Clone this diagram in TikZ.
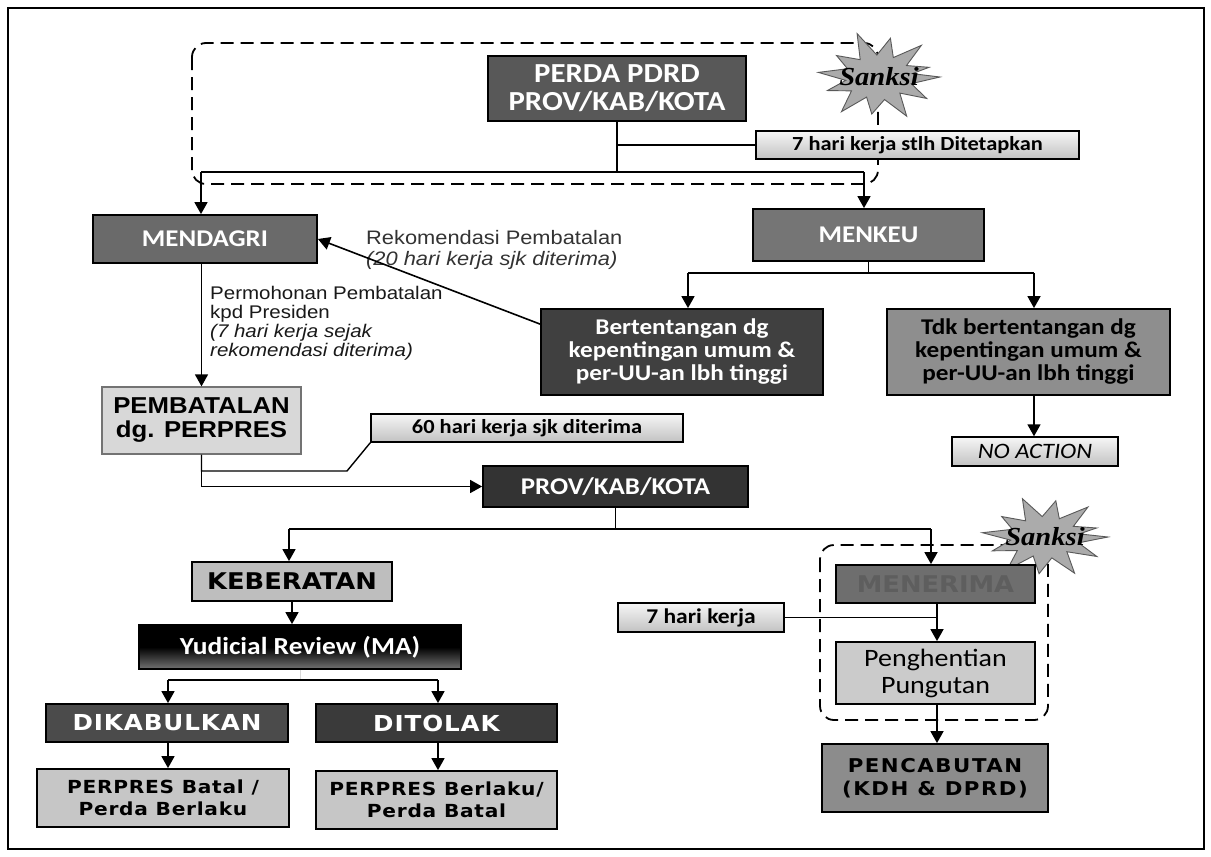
\documentclass[tikz,border=0pt]{standalone}
\usepackage{fontspec}
\usetikzlibrary{arrows.meta,calc}
\newfontfamily\carl{Carlito}[FakeStretch=1.12]
\newfontfamily\lsans{Liberation Sans}[FakeStretch=1.12]
\newfontfamily\heavyA{DejaVu Sans}[FakeStretch=1.12]
\newfontfamily\heavyB{DejaVu Sans}[FakeStretch=1.12,LetterSpace=4]
\newfontfamily\heavyC{DejaVu Sans}[FakeStretch=1.12,LetterSpace=8]
\newfontfamily\sanksifont{Liberation Serif}[FakeStretch=1.1]
\newcommand{\fs}[2]{\fontsize{#1}{#2}\selectfont}
\definecolor{cPerda}{HTML}{585858}
\definecolor{cMendagri}{HTML}{6A6A6A}
\definecolor{cMenkeu}{HTML}{757575}
\definecolor{cBerten}{HTML}{404040}
\definecolor{cTdk}{HTML}{8E8E8E}
\definecolor{cPembat}{HTML}{D8D8D8}
\definecolor{cProv}{HTML}{333333}
\definecolor{cKeber}{HTML}{BEBEBE}
\definecolor{cDikab}{HTML}{4B4B4B}
\definecolor{cDitol}{HTML}{3A3A3A}
\definecolor{cPerpres}{HTML}{C6C6C6}
\definecolor{cMenerima}{HTML}{6E6E6E}
\definecolor{cMenerimaTxt}{HTML}{5E5E5E}
\definecolor{cPengh}{HTML}{CBCBCB}
\definecolor{cPencab}{HTML}{8C8C8C}
\definecolor{cBurst}{HTML}{ABABAB}
\definecolor{cGradTop}{HTML}{F6F6F6}
\definecolor{cGradBot}{HTML}{C2C2C2}
\definecolor{cLabel}{HTML}{333333}
\tikzset{
  bx/.style={draw=black, line width=1.8pt, inner sep=0pt, align=center, anchor=center},
  gbx/.style={bx, line width=1.4pt, top color=cGradTop, bottom color=cGradBot},
  arr/.style={line width=1.6pt, -{Triangle[width=13pt,length=12pt]}},
  ln/.style={line width=1.6pt},
  dsh/.style={line width=1.8pt, dash pattern=on 13pt off 7pt, rounded corners=14pt},
  burstshape/.style={fill=cBurst, draw=black!65, line width=0.9pt, line join=miter},
  bursttext/.style={inner sep=0pt, font=\sanksifont\bfseries\itshape\fs{26}{26}}
}
\begin{document}
\begin{tikzpicture}[x=1pt,y=-1pt]
\fill[white] (0,0) rectangle (1211,857);
\useasboundingbox (0,0) rectangle (1211,857);
\draw[line width=1.5pt] (8,8) rectangle (1204,849);

% dashed groups (drawn first, behind everything)
\draw[dsh] (192,43) rectangle (878,184);
\draw[dsh] (820,545) rectangle (1048,720);

% starburst 1
\coordinate (sk1c) at (879,77);
\filldraw[burstshape] ($(sk1c)+(0:61 and 40)$)
  \foreach \a/\f in {16/0.55, 32/0.92, 47/0.5, 63/1.0, 80/0.52, 98/0.85, 114/0.5, 128/1.0, 145/0.55, 160/0.9, 172/0.55, 186/1.0, 200/0.55, 215/0.85, 232/0.5, 250/1.05, 266/0.5, 282/0.9, 298/0.5, 314/1.0, 330/0.52, 345/0.85, 352/0.55}
  { -- ($(sk1c)+(\a:{61*\f} and {44*\f})$) } -- cycle;
\node[bursttext] (sk1) at (sk1c) {Sanksi};

% starburst 2
\coordinate (sk2c) at (1045,537);
\filldraw[burstshape] ($(sk2c)+(0:63 and 36)$)
  \foreach \a/\f in {15/0.55, 30/0.95, 46/0.5, 62/1.0, 78/0.52, 96/0.9, 112/0.5, 127/1.0, 143/0.55, 158/0.9, 172/0.55, 186/1.0, 200/0.55, 216/0.85, 232/0.5, 249/1.0, 265/0.5, 281/0.9, 297/0.5, 313/1.0, 330/0.52, 345/0.85, 352/0.55}
  { -- ($(sk2c)+(\a:{63*\f} and {41*\f})$) } -- cycle;
\node[bursttext] (sk2) at (sk2c) {Sanksi};

% nodes
\node[bx, fill=cPerda, text=white, minimum width=258pt, minimum height=65pt, font=\carl\bfseries\fs{27.5}{28}] (perda) at (617,88.5) {PERDA PDRD\\PROV/KAB/KOTA};
\node[gbx, minimum width=323pt, minimum height=28pt, font=\carl\bfseries\fs{20}{21}] (t7stlh) at (917.5,145) {7 hari kerja stlh Ditetapkan};

\node[bx, fill=cMendagri, text=white, minimum width=224pt, minimum height=48pt, font=\carl\bfseries\fs{24}{26}] (mendagri) at (205,239) {MENDAGRI};
\node[bx, fill=cMenkeu, text=white, minimum width=231pt, minimum height=52pt, font=\carl\bfseries\fs{24}{26}] (menkeu) at (868.5,235) {MENKEU};
\node[bx, fill=cBerten, text=white, minimum width=282pt, minimum height=86pt, font=\carl\bfseries\fs{22.5}{23}] (berten) at (682,352) {Bertentangan dg\\kepentingan umum \&\\per-UU-an lbh tinggi};
\node[bx, fill=cTdk, text=black, minimum width=283pt, minimum height=86pt, font=\carl\bfseries\fs{22.5}{23}] (tdk) at (1028.5,352) {Tdk bertentangan dg\\kepentingan umum \&\\per-UU-an lbh tinggi};
\node[gbx, minimum width=166pt, minimum height=29pt, font=\carl\itshape\fs{22}{23}] (noaction) at (1035,451.5) {NO ACTION};

\node[anchor=west, align=left, inner sep=0pt, text=cLabel, font=\lsans\fs{19.5}{21}] (rek) at (366,249.5) {Rekomendasi Pembatalan\\{\itshape (20 hari kerja sjk diterima)}};
\node[anchor=west, align=left, inner sep=0pt, text=black!90, font=\lsans\fs{18.3}{19}] (perm) at (210,323) {Permohonan Pembatalan\\kpd Presiden\\{\itshape (7 hari kerja sejak}\\{\itshape rekomendasi diterima)}};

\node[bx, draw=black!55, line width=1.3pt, fill=cPembat, minimum width=199pt, minimum height=67pt, font=\lsans\bfseries\fs{23}{24}] (pembat) at (201.5,420.5) {PEMBATALAN\\dg. PERPRES};
\node[gbx, minimum width=312pt, minimum height=28pt, font=\carl\bfseries\fs{20}{21}] (t60) at (527,428) {60 hari kerja sjk diterima};
\node[bx, fill=cProv, text=white, minimum width=265pt, minimum height=41pt, font=\carl\bfseries\fs{24}{26}] (prov) at (615.5,486.5) {PROV/KAB/KOTA};

\node[bx, fill=cKeber, minimum width=200pt, minimum height=39pt, font=\heavyA\bfseries\fs{23}{24}] (keber) at (292,581.5) {KEBERATAN};
\node[bx, top color=black, bottom color=black!55, middle color=black, minimum width=322pt, minimum height=44pt, text=white, font=\carl\bfseries\fs{24.5}{26}] (yudi) at (300,647) {Yudicial Review (MA)};
\node[bx, fill=cDikab, text=white, minimum width=242pt, minimum height=38pt, font=\heavyB\bfseries\fs{22}{24}] (dikab) at (167,723) {DIKABULKAN};
\node[bx, fill=cDitol, text=white, minimum width=241pt, minimum height=38pt, font=\heavyB\bfseries\fs{22}{24}] (ditol) at (436.5,723) {DITOLAK};
\node[bx, fill=cPerpres, minimum width=252pt, minimum height=58pt, font=\heavyB\bfseries\fs{18}{22}] (pbatal) at (163,798) {PERPRES Batal /\\Perda Berlaku};
\node[bx, fill=cPerpres, minimum width=241pt, minimum height=58pt, font=\heavyB\bfseries\fs{18}{22}] (pberl) at (436.5,800) {PERPRES Berlaku/\\Perda Batal};

\node[bx, fill=cMenerima, text=cMenerimaTxt, minimum width=199pt, minimum height=38pt, font=\heavyA\bfseries\fs{23}{24}] (menerima) at (935.5,584) {MENERIMA};
\node[gbx, minimum width=166pt, minimum height=29pt, font=\carl\bfseries\fs{21}{22}] (t7) at (701,617.5) {7 hari kerja};
\node[bx, fill=cPengh, minimum width=199pt, minimum height=62pt, font=\carl\fs{25}{27}] (pengh) at (935.5,673) {Penghentian\\Pungutan};
\node[bx, fill=cPencab, minimum width=226pt, minimum height=68pt, font=\heavyC\bfseries\fs{19}{23}] (pencab) at (935,778) {PENCABUTAN\\(KDH \& DPRD)};

% connectors
\coordinate (jL) at (201,172);
\coordinate (jR) at (864,172);
\draw[ln] (perda.south) -- (perda.south |- jL);
\draw[ln] (perda.south |- t7stlh.west) -- (t7stlh.west);
\draw[ln] (jL) -- (jR);
\draw[arr] (jL) -- (jL |- mendagri.north);
\draw[arr] (jR) -- (jR |- menkeu.north);

\draw[arr] ([yshift=-16pt]berten.north west) -- (mendagri.east);
\draw[arr] (mendagri.south -| pembat.north) -- (pembat.north);

\coordinate (c60a) at (0,471);
\coordinate (c60b) at (347,471);
\draw[ln, line width=1.4pt] (pembat.south) -- (pembat.south |- c60a) -- (c60b) -- (t60.south west);
\draw[arr] (pembat.south |- c60a) |- (prov.west);

\coordinate (kL) at (688,273);
\coordinate (kR) at (1034,273);
\draw[ln] (menkeu.south) -- (menkeu.south |- kL);
\draw[ln] (kL) -- (kR);
\draw[arr] (kL) -- (kL |- berten.north);
\draw[arr] (kR) -- (kR |- tdk.north);
\draw[arr] (tdk.south -| kR) -- (kR |- noaction.north);

\coordinate (pL) at (289,529);
\coordinate (pR) at (931,529);
\draw[ln] (prov.south) -- (prov.south |- pL);
\draw[ln] (pL) -- (pR);
\draw[arr] (pL) -- (pL |- keber.north);
\draw[arr] (pR) -- (pR |- menerima.north);

\draw[arr] (keber.south) -- (keber.south |- yudi.north);
\coordinate (yL) at (168,680);
\coordinate (yR) at (438,680);
\draw[line width=1pt, black!15] (yudi.south) -- (yudi.south |- yL);
\draw[ln] (yL) -- (yR);
\draw[arr] (yL) -- (yL |- dikab.north);
\draw[arr] (yR) -- (yR |- ditol.north);
\draw[arr] (dikab.south -| yL) -- (yL |- pbatal.north);
\draw[arr] (ditol.south -| yR) -- (yR |- pberl.north);

\coordinate (mX) at (937,0);
\draw[arr] (menerima.south -| mX) -- (mX |- pengh.north);
\draw[ln, line width=1.3pt] (t7.east) -- (t7.east -| mX);
\draw[arr] (pengh.south -| mX) -- (mX |- pencab.north);
\end{tikzpicture}
\end{document}
